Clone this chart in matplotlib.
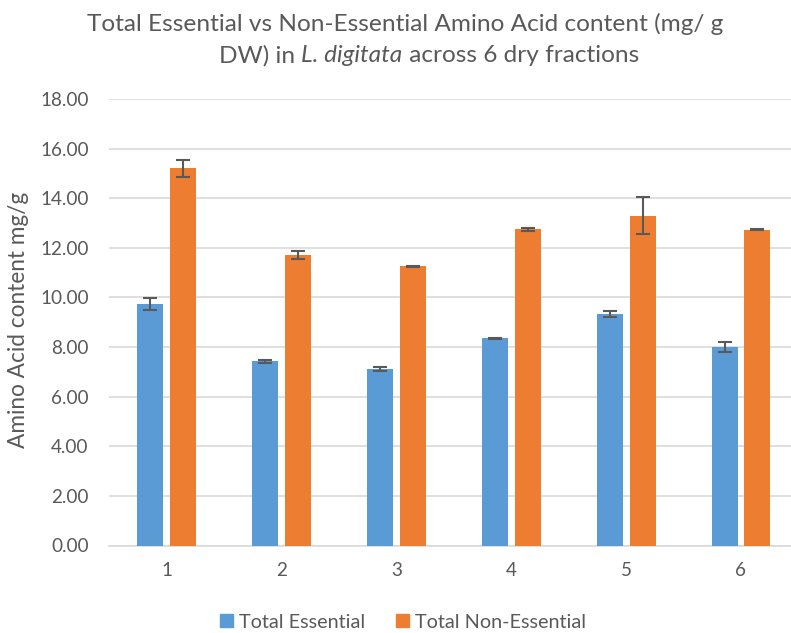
import matplotlib
matplotlib.use("Agg")
import matplotlib.pyplot as plt
import numpy as np
from matplotlib.patches import Patch

categories = ["1", "2", "3", "4", "5", "6"]
essential = [9.73, 7.42, 7.11, 8.35, 9.33, 8.00]
essential_err = [0.23, 0.07, 0.09, 0.02, 0.13, 0.19]
non_essential = [15.21, 11.71, 11.25, 12.74, 13.30, 12.73]
non_essential_err = [0.34, 0.15, 0.03, 0.05, 0.75, 0.03]
series_names = ["Total Essential", "Total Non-Essential"]
yticks = [0, 2, 4, 6, 8, 10, 12, 14, 16, 18]
title1 = "Total Essential vs Non-Essential Amino Acid content (mg/ g"
title2_parts = [("DW) in ", "normal"), ("L. digitata", "italic"), (" across 6 dry fractions", "normal")]
ylabel = "Amino Acid content mg/g"

plt.rcParams['font.family'] = ['Lato', 'DejaVu Sans']

TXT = '#595959'
BLUE = '#5B9BD5'
ORANGE = '#ED7D31'

W, H = 791, 633
fig = plt.figure(figsize=(W/100, H/100), dpi=100)
renderer = fig.canvas.get_renderer()


def text_width(s, fs, style="normal"):
    t = fig.text(0, 0, s, fontsize=fs, fontstyle=style)
    w = t.get_window_extent(renderer=renderer).width
    t.remove()
    return w


def fit_size(s, target_px, base=12.0):
    return base * target_px / text_width(s, base)


tick_fs = fit_size("18.00", 48)
title_fs = fit_size(title1, 634)
ylabel_fs = fit_size(ylabel, 255)
legend_fs = fit_size(series_names[0], 126)

left, right = 109.3, 798.4
bottom, top = 545.5, 99
ax = fig.add_axes([left/W, (H-bottom)/H, (right-left)/W, (bottom-top)/H])

x = np.arange(1, len(categories)+1)
bw = 0.226
off = 0.143
ekw = dict(ecolor='#595959', elinewidth=1.5, capsize=5, capthick=1.5)
ax.bar(x-off, essential, bw, color=BLUE, yerr=essential_err, error_kw=ekw, zorder=3)
ax.bar(x+off, non_essential, bw, color=ORANGE, yerr=non_essential_err, error_kw=ekw, zorder=3)

ax.set_xlim(0.5, 6.5)
ax.set_ylim(0, 18)
ax.set_yticks(yticks)
ax.set_yticklabels([f"{v:.2f}" for v in yticks])
ax.set_xticks(x)
ax.set_xticklabels(categories)
ax.yaxis.grid(True, color='#D9D9D9', linewidth=1.2, zorder=0)
ax.set_axisbelow(True)
for s in ['top', 'right', 'left']:
    ax.spines[s].set_visible(False)
ax.spines['bottom'].set_color('#D9D9D9')
ax.spines['bottom'].set_linewidth(1.2)
ax.tick_params(axis='both', length=0, colors=TXT, labelsize=tick_fs)
ax.tick_params(axis='y', pad=15)
ax.tick_params(axis='x', pad=12)

fig.text(19/W, 1-320/H, ylabel, rotation=90, ha='center', va='center',
         fontsize=ylabel_fs, color=TXT)

fig.text(405/W, 1-24/H, title1, ha='center', va='center', fontsize=title_fs, color=TXT)

# second title line built from pieces (italic species name)
widths = [text_width(s, title_fs, st) for s, st in title2_parts]
xpos = 429 - sum(widths) / 2
for (s, st), w in zip(title2_parts, widths):
    fig.text(xpos/W, 1-54/H, s, ha='left', va='center_baseline', fontsize=title_fs,
             fontstyle=st, color=TXT)
    xpos += w

handles = [Patch(color=BLUE, label=series_names[0]), Patch(color=ORANGE, label=series_names[1])]
fig.legend(handles=handles, loc='center', bbox_to_anchor=(403/W, 1-622/H), ncol=2,
           frameon=False, fontsize=legend_fs, labelcolor=TXT, handlelength=0.65, handleheight=0.65,
           handletextpad=0.3, columnspacing=1.6)

fig.savefig("out.png", dpi=100)
